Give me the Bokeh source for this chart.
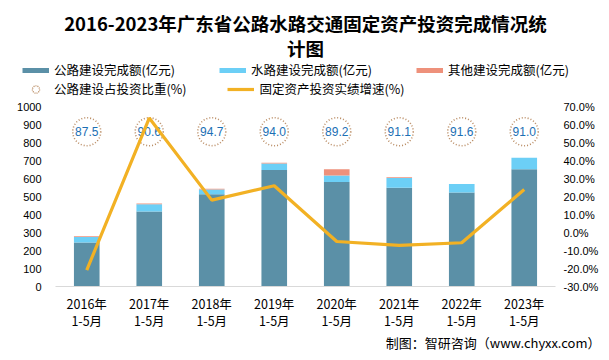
from bokeh.plotting import figure
from bokeh.layouts import column
from bokeh.models import (ColumnDataSource, FactorRange, Range1d, LinearAxis, Legend,
                          LegendItem, Label, SingleIntervalTicker, PrintfTickFormatter)
from bokeh.core.properties import value
from bokeh.embed import file_html
from bokeh.resources import INLINE

# ---------------- data ----------------
years = ["2016年", "2017年", "2018年", "2019年", "2020年", "2021年", "2022年", "2023年"]
period = "1-5月"
road = [244, 416, 512, 647, 581, 549, 522, 651]      # 公路建设完成额(亿元)
water = [31, 41, 27, 36, 36, 54, 48, 64]             # 水路建设完成额(亿元)
other = [4, 4, 4, 5, 34, 4, 0, 0]                    # 其他建设完成额(亿元)
road_share = [87.5, 90.6, 94.7, 94.0, 89.2, 91.1, 91.6, 91.0]   # 公路建设占投资比重(%)
growth = [-20.9, 63.6, 18.0, 26.0, -5.0, -7.1, -5.7, 23.9]      # 固定资产投资实绩增速(%)

cats = [f"{y}\n{period}" for y in years]

TITLE_1 = "2016-2023年广东省公路水路交通固定资产投资完成情况统"
TITLE_2 = "计图"
FOOTER = "制图：智研咨询（www.chyxx.com）"
LEG_ROAD = "公路建设完成额(亿元)"
LEG_WATER = "水路建设完成额(亿元)"
LEG_OTHER = "其他建设完成额(亿元)"
LEG_SHARE = "公路建设占投资比重(%)"
LEG_GROWTH = "固定资产投资实绩增速(%)"

C_ROAD = "#5B90A7"
C_WATER = "#6CCFF6"
C_OTHER = "#EE917B"
C_LINE = "#F2B124"
C_RING = "#B98B62"
C_RTXT = "#1C6FB4"
CJK = "Noto Sans CJK SC"
NUM = "Liberation Sans"

BUBBLE_Y = 860  # vertical placement of share rings (left-axis units)
NAN = float("nan")

W = 601
H_HEAD, H_MAIN, H_FOOT = 98, 234, 20


def blank(h):
    f = figure(width=W, height=h, x_range=Range1d(0, W), y_range=Range1d(h, 0),
               x_axis_type=None, y_axis_type=None, output_backend="svg",
               toolbar_location=None, title=None, min_border=0, frame_align=False)
    f.outline_line_color = None
    f.xgrid.grid_line_color = None
    f.ygrid.grid_line_color = None
    f.border_fill_color = "white"
    f.background_fill_color = "white"
    return f


# ---------------- header: title + legend ----------------
head = blank(H_HEAD)
for txt, ty in [(TITLE_1, 22), (TITLE_2, 47)]:
    head.add_layout(Label(x=305, y=ty, text=txt, text_align="center", text_baseline="middle",
                          text_font=CJK, text_font_size="18.5px", text_font_style="bold",
                          text_color="#000000"))

# legend-only renderers (NaN data: nothing drawn in the plot area)
sw_road = head.line(x=[NAN], y=[NAN], line_color=C_ROAD, line_width=5)
sw_water = head.line(x=[NAN], y=[NAN], line_color=C_WATER, line_width=5)
sw_other = head.line(x=[NAN], y=[NAN], line_color=C_OTHER, line_width=5)
sw_ring = head.scatter(x=[NAN], y=[NAN], marker="circle", fill_color=None, line_color=C_RING,
                       line_width=1.3, line_dash="1 1")
sw_line = head.line(x=[NAN], y=[NAN], line_color=C_LINE, line_width=3.2)


def mk_legend(items, loc, spacing):
    return Legend(items=items, orientation="horizontal", location=loc, spacing=spacing,
                  padding=0, margin=0, border_line_color=None, background_fill_alpha=0,
                  glyph_width=27, glyph_height=18, label_height=16, label_standoff=5,
                  label_text_font=CJK, label_text_font_size="12.5px",
                  label_text_color="#000000")


head.add_layout(mk_legend([
    LegendItem(label=LEG_ROAD, renderers=[sw_road]),
    LegendItem(label=LEG_WATER, renderers=[sw_water]),
    LegendItem(label=LEG_OTHER, renderers=[sw_other]),
], (22, 19), 44))
head.add_layout(mk_legend([
    LegendItem(label=LEG_SHARE, renderers=[sw_ring]),
    LegendItem(label=LEG_GROWTH, renderers=[sw_line]),
], (22, 0), 41))

# ---------------- main chart ----------------
src = ColumnDataSource(dict(
    x=cats, road=road, water=water, other=other,
    share=road_share, share_txt=[f"{v:.1f}" for v in road_share],
    growth=growth, by=[BUBBLE_Y] * len(cats),
))

p = figure(width=W, height=H_MAIN, x_range=FactorRange(factors=cats), y_range=Range1d(0, 1000),
           output_backend="svg", toolbar_location=None, title=None, frame_align=False,
           min_border_left=55, min_border_right=42, min_border_top=8, min_border_bottom=40)
p.outline_line_color = None
p.xgrid.grid_line_color = None
p.ygrid.grid_line_color = None
p.background_fill_color = "white"
p.border_fill_color = "white"

p.extra_y_ranges = {"pct": Range1d(-30, 70)}

p.vbar_stack(["road", "water", "other"], x="x", width=0.41, source=src,
             color=[C_ROAD, C_WATER, C_OTHER], line_width=0)

p.scatter(x="x", y="by", source=src, size=28, marker="circle",
          fill_color=None, line_color=C_RING, line_width=1.6, line_dash="1 2")
p.text(x="x", y="by", text="share_txt", source=src, text_align="center",
       text_baseline="middle", text_color=C_RTXT, text_font=value(NUM),
       text_font_size="12px")

p.line(x="x", y="growth", source=src, y_range_name="pct", line_color=C_LINE, line_width=3.2)

p.yaxis.ticker = SingleIntervalTicker(interval=100, num_minor_ticks=0)
p.yaxis.axis_line_color = None
p.yaxis.major_tick_line_color = None
p.yaxis.minor_tick_line_color = None
p.yaxis.major_tick_out = 0
p.yaxis.major_tick_in = 0
p.yaxis.major_label_standoff = 14
p.yaxis.major_label_text_font = NUM
p.yaxis.major_label_text_font_size = "11px"
p.yaxis.major_label_text_color = "#000000"

ra = LinearAxis(y_range_name="pct", ticker=SingleIntervalTicker(interval=10, num_minor_ticks=0),
                formatter=PrintfTickFormatter(format="%.1f%%"))
ra.axis_line_color = None
ra.major_tick_line_color = None
ra.minor_tick_line_color = None
ra.major_tick_out = 0
ra.major_tick_in = 0
ra.major_label_standoff = 8
ra.major_label_text_font = NUM
ra.major_label_text_font_size = "11px"
ra.major_label_text_color = "#000000"
p.add_layout(ra, "right")

p.xaxis.axis_line_color = "#D9D9D9"
p.xaxis.major_tick_line_color = None
p.xaxis.minor_tick_line_color = None
p.xaxis.major_tick_out = 0
p.xaxis.major_tick_in = 0
p.xaxis.major_label_standoff = 7
p.xaxis.major_label_text_font = CJK
p.xaxis.major_label_text_font_size = "12.5px"
p.xaxis.major_label_text_color = "#000000"
p.xaxis.major_label_text_line_height = 0.9

# ---------------- footer ----------------
foot = blank(H_FOOT)
foot.add_layout(Label(x=600, y=10, text=FOOTER, text_align="right", text_baseline="middle",
                      text_font=CJK, text_font_size="13px", text_color="#000000"))

layout = column(head, p, foot, spacing=0)
open("out.html", "w").write(file_html(layout, INLINE))
